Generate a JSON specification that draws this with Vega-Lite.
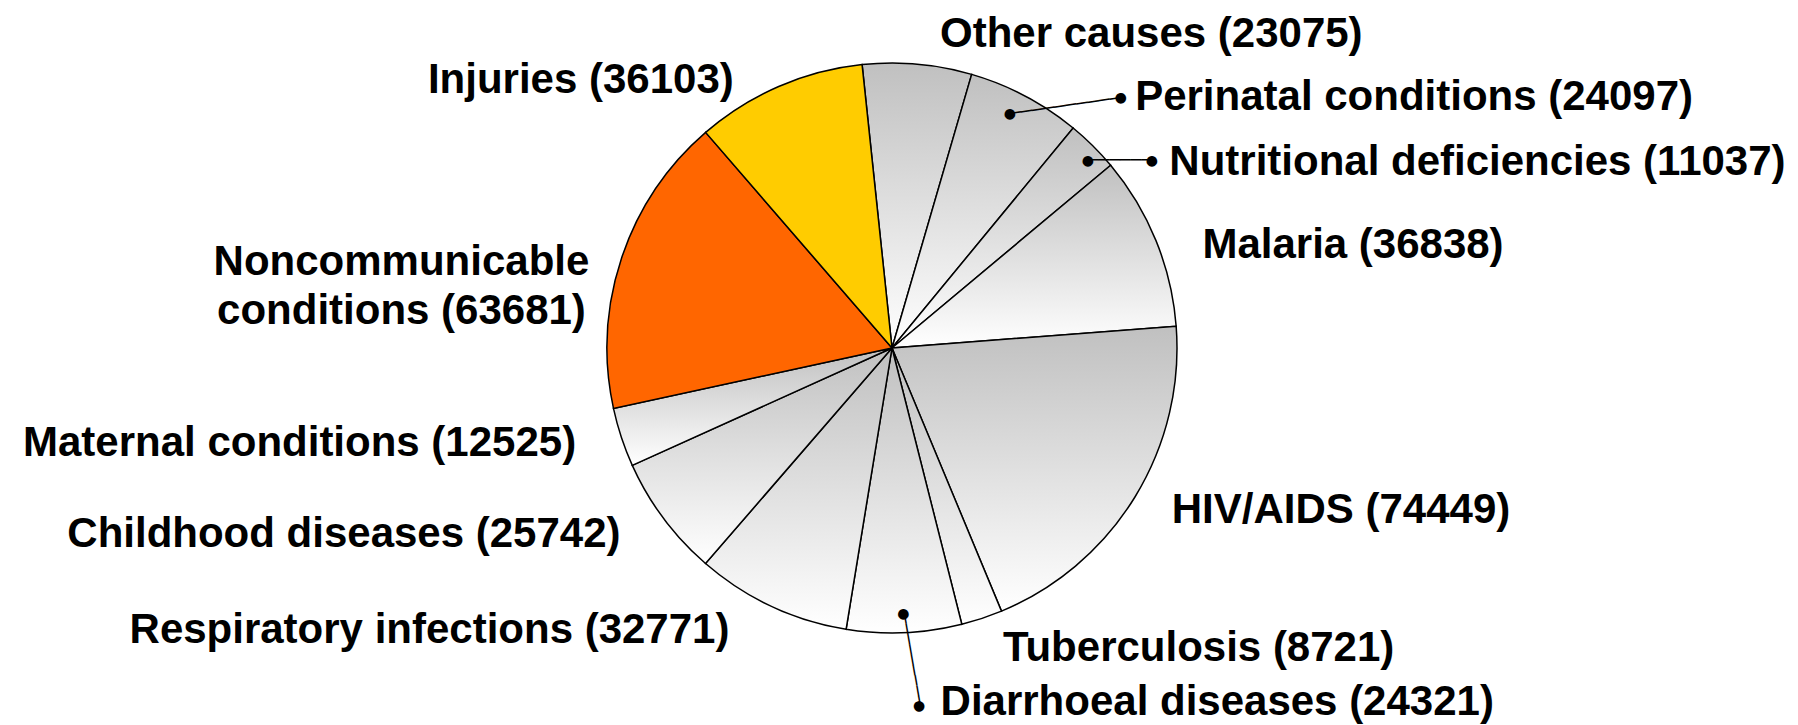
{
  "$schema": "https://vega.github.io/schema/vega-lite/v6.json",
  "width": 1784,
  "height": 696,
  "autosize": {"type": "none"},
  "padding": {"left": 0, "top": 0, "right": 14, "bottom": 29},
  "background": "white",
  "config": {
    "view": {"stroke": null},
    "text": {"font": "Liberation Sans", "fontWeight": "bold", "fontSize": 42, "color": "black"}
  },
  "data": {
    "values": [
      {"k": 1, "cause": "Other causes", "deaths": 23075, "label": "Other causes (23075)"},
      {"k": 2, "cause": "Perinatal conditions", "deaths": 24097, "label": "Perinatal conditions (24097)"},
      {"k": 3, "cause": "Nutritional deficiencies", "deaths": 11037, "label": "Nutritional deficiencies (11037)"},
      {"k": 4, "cause": "Malaria", "deaths": 36838, "label": "Malaria (36838)"},
      {"k": 5, "cause": "HIV/AIDS", "deaths": 74449, "label": "HIV/AIDS (74449)"},
      {"k": 6, "cause": "Tuberculosis", "deaths": 8721, "label": "Tuberculosis (8721)"},
      {"k": 7, "cause": "Diarrhoeal diseases", "deaths": 24321, "label": "Diarrhoeal diseases (24321)"},
      {"k": 8, "cause": "Respiratory infections", "deaths": 32771, "label": "Respiratory infections (32771)"},
      {"k": 9, "cause": "Childhood diseases", "deaths": 25742, "label": "Childhood diseases (25742)"},
      {"k": 10, "cause": "Maternal conditions", "deaths": 12525, "label": "Maternal conditions (12525)"},
      {"k": 11, "cause": "Noncommunicable conditions", "deaths": 63681, "label": "Noncommunicable\nconditions (63681)"},
      {"k": 12, "cause": "Injuries", "deaths": 36103, "label": "Injuries (36103)"}
    ]
  },
  "encoding": {
    "theta": {"field": "deaths", "type": "quantitative", "stack": true, "scale": {"range": [-0.105, 6.178], "nice": false}},
    "order": {"field": "k", "type": "quantitative"}
  },
  "layer": [
    {
      "mark": {"type": "arc", "outerRadius": 285, "stroke": "black", "strokeWidth": 1.5},
      "encoding": {
        "color": {
          "condition": [
            {"test": "datum.cause === 'Noncommunicable conditions'", "value": "#FF6600"},
            {"test": "datum.cause === 'Injuries'", "value": "#FFCC00"}
          ],
          "value": {"gradient": "linear", "x1": 0, "y1": 0, "x2": 0, "y2": 1,
            "stops": [{"offset": 0, "color": "#C0C0C0"}, {"offset": 1, "color": "#FFFFFF"}]}
        }
      }
    },
    {
      "mark": {"type": "text", "radius": 315, "align": "left", "baseline": "middle", "dx": 20, "dy": 0},
      "encoding": {"text": {"condition": {"test": "datum.cause === 'Other causes'", "field": "label", "type": "nominal"}, "value": ""}}
    },
    {
      "mark": {"type": "text", "radius": 300, "align": "left", "baseline": "middle", "dx": 103, "dy": 14},
      "encoding": {"text": {"condition": {"test": "datum.cause === 'Perinatal conditions'", "field": "label", "type": "nominal"}, "value": ""}}
    },
    {
      "mark": {"type": "text", "radius": 300, "align": "left", "baseline": "middle", "dx": 66, "dy": 27},
      "encoding": {"text": {"condition": {"test": "datum.cause === 'Nutritional deficiencies'", "field": "label", "type": "nominal"}, "value": ""}}
    },
    {
      "mark": {"type": "text", "radius": 320, "align": "left", "baseline": "middle", "dx": 14, "dy": 18},
      "encoding": {"text": {"condition": {"test": "datum.cause === 'Malaria'", "field": "label", "type": "nominal"}, "value": ""}}
    },
    {
      "mark": {"type": "text", "radius": 320, "align": "left", "baseline": "middle", "dx": 7, "dy": -5},
      "encoding": {"text": {"condition": {"test": "datum.cause === 'HIV/AIDS'", "field": "label", "type": "nominal"}, "value": ""}}
    },
    {
      "mark": {"type": "text", "radius": 320, "align": "left", "baseline": "middle", "dx": 10, "dy": -4},
      "encoding": {"text": {"condition": {"test": "datum.cause === 'Tuberculosis'", "field": "label", "type": "nominal"}, "value": ""}}
    },
    {
      "mark": {"type": "text", "radius": 340, "align": "left", "baseline": "middle", "dx": 34, "dy": 14},
      "encoding": {"text": {"condition": {"test": "datum.cause === 'Diarrhoeal diseases'", "field": "label", "type": "nominal"}, "value": ""}}
    },
    {
      "mark": {"type": "text", "radius": 320, "align": "right", "baseline": "middle", "dx": -27, "dy": -8},
      "encoding": {"text": {"condition": {"test": "datum.cause === 'Respiratory infections'", "field": "label", "type": "nominal"}, "value": ""}}
    },
    {
      "mark": {"type": "text", "radius": 320, "align": "right", "baseline": "middle", "dx": -15, "dy": -5},
      "encoding": {"text": {"condition": {"test": "datum.cause === 'Childhood diseases'", "field": "label", "type": "nominal"}, "value": ""}}
    },
    {
      "mark": {"type": "text", "radius": 320, "align": "right", "baseline": "middle", "dx": -12, "dy": -5},
      "encoding": {"text": {"condition": {"test": "datum.cause === 'Maternal conditions'", "field": "label", "type": "nominal"}, "value": ""}}
    },
    {
      "mark": {"type": "text", "radius": 320, "align": "center", "baseline": "middle", "dx": -187, "dy": 15, "lineBreak": "\n", "lineHeight": 49},
      "encoding": {"text": {"condition": {"test": "datum.cause === 'Noncommunicable conditions'", "field": "label", "type": "nominal"}, "value": ""}}
    },
    {
      "mark": {"type": "text", "radius": 315, "align": "right", "baseline": "middle", "dx": -33, "dy": 21},
      "encoding": {"text": {"condition": {"test": "datum.cause === 'Injuries'", "field": "label", "type": "nominal"}, "value": ""}}
    },
    {
      "mark": {"type": "text", "radius": 260, "align": "left", "baseline": "middle", "angle": 351.8, "dx": -3, "dy": -4.7, "font": "DejaVu Sans Mono", "fontWeight": "normal", "fontSize": 18.6},
      "encoding": {"text": {"condition": {"test": "datum.cause === 'Perinatal conditions'", "value": "──────────"}, "value": ""}}
    },
    {
      "mark": {"type": "text", "radius": 260, "align": "center", "baseline": "middle", "dx": -3.6, "dy": -4.2, "font": "DejaVu Sans", "fontWeight": "normal", "fontSize": 14},
      "encoding": {"text": {"condition": {"test": "datum.cause === 'Perinatal conditions'", "value": "●"}, "value": ""}}
    },
    {
      "mark": {"type": "text", "radius": 260, "align": "center", "baseline": "middle", "angle": 351.8, "dx": 109, "dy": -4.7, "font": "DejaVu Sans", "fontWeight": "normal", "fontSize": 14},
      "encoding": {"text": {"condition": {"test": "datum.cause === 'Perinatal conditions'", "value": "●"}, "value": ""}}
    },
    {
      "mark": {"type": "text", "radius": 270, "align": "left", "baseline": "middle", "dx": 5.7, "dy": 4.6, "font": "DejaVu Sans Mono", "fontWeight": "normal", "fontSize": 17.7},
      "encoding": {"text": {"condition": {"test": "datum.cause === 'Nutritional deficiencies'", "value": "──────"}, "value": ""}}
    },
    {
      "mark": {"type": "text", "radius": 270, "align": "center", "baseline": "middle", "dx": 5.7, "dy": 4.6, "font": "DejaVu Sans", "fontWeight": "normal", "fontSize": 14},
      "encoding": {"text": {"condition": {"test": "datum.cause === 'Nutritional deficiencies'", "value": "●"}, "value": ""}}
    },
    {
      "mark": {"type": "text", "radius": 270, "align": "center", "baseline": "middle", "dx": 69.7, "dy": 4.6, "font": "DejaVu Sans", "fontWeight": "normal", "fontSize": 14},
      "encoding": {"text": {"condition": {"test": "datum.cause === 'Nutritional deficiencies'", "value": "●"}, "value": ""}}
    },
    {
      "mark": {"type": "text", "radius": 266, "align": "left", "baseline": "middle", "angle": 80.2, "font": "DejaVu Sans Mono", "fontWeight": "normal", "fontSize": 17.35},
      "encoding": {"text": {"condition": {"test": "datum.cause === 'Diarrhoeal diseases'", "value": "─────────"}, "value": ""}}
    },
    {
      "mark": {"type": "text", "radius": 266, "align": "center", "baseline": "middle", "font": "DejaVu Sans", "fontWeight": "normal", "fontSize": 14},
      "encoding": {"text": {"condition": {"test": "datum.cause === 'Diarrhoeal diseases'", "value": "●"}, "value": ""}}
    },
    {
      "mark": {"type": "text", "radius": 266, "align": "center", "baseline": "middle", "angle": 80.2, "dx": 94, "font": "DejaVu Sans", "fontWeight": "normal", "fontSize": 14},
      "encoding": {"text": {"condition": {"test": "datum.cause === 'Diarrhoeal diseases'", "value": "●"}, "value": ""}}
    }
  ]
}
